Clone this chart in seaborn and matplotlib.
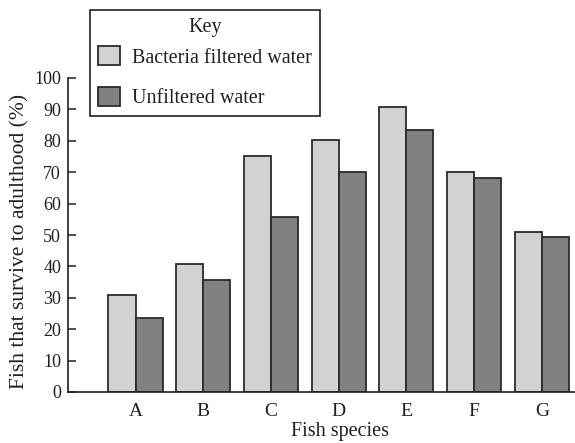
import matplotlib
matplotlib.use("Agg")
import matplotlib.pyplot as plt
import seaborn as sns
import pandas as pd

species = ["A", "B", "C", "D", "E", "F", "G"]
filtered = [31.0, 40.7, 75.2, 80.4, 90.8, 70.2, 51.1]
unfiltered = [23.7, 35.8, 55.8, 70.2, 83.4, 68.0, 49.5]
series_names = ["Bacteria filtered water", "Unfiltered water"]
colors = ["#d1d2d4", "#808183"]
yticks = list(range(0, 101, 10))

df = pd.DataFrame({
    "species": species * 2,
    "pct": filtered + unfiltered,
    "water": [series_names[0]] * len(species) + [series_names[1]] * len(species),
})

sns.set_theme(style="white")
plt.rcParams["font.family"] = ["Liberation Serif", "DejaVu Serif"]
plt.rcParams["text.color"] = "#231f20"

fig = plt.figure(figsize=(5.75, 4.43), dpi=100)
ax = fig.add_axes([68 / 575, 1 - 392 / 443, 507 / 575, 314 / 443])

sns.barplot(data=df, x="species", y="pct", hue="water", palette=colors,
            edgecolor="#2b2b2b", linewidth=1.3, ax=ax, saturation=1)

ax.set_ylim(0, 100)
ax.set_xlim(-0.997, 6.49)
ax.set_yticks(yticks)
ax.set_yticklabels([str(t) for t in yticks])
for s in ["top", "right"]:
    ax.spines[s].set_visible(False)
for s in ["left", "bottom"]:
    ax.spines[s].set_color("#231f20")
    ax.spines[s].set_linewidth(1.2)
ax.tick_params(axis="y", direction="in", length=6, width=1.1, color="#231f20",
               labelsize=13, pad=5, labelcolor="#231f20", left=True)
ax.tick_params(axis="x", length=0, labelsize=14, pad=8, labelcolor="#231f20")

ax.set_xlabel("Fish species", fontsize=14.5, color="#231f20")
ax.set_ylabel("Fish that survive to adulthood (%)", fontsize=15.5, color="#231f20")
ax.xaxis.set_label_coords(0.536, -0.096)
ax.yaxis.set_label_coords(-0.076, 0.478)

handles, labels = ax.get_legend_handles_labels()
ax.get_legend().remove()
fs = 14.5
leg = fig.legend(handles, labels, title="Key", loc="upper left",
                 bbox_to_anchor=(90 / 575, 1 - 10 / 443), borderaxespad=0,
                 frameon=True, fancybox=False, edgecolor="#231f20",
                 fontsize=fs, title_fontsize=fs, labelspacing=0.95,
                 handlelength=1.1, handleheight=1.1, handletextpad=0.6,
                 borderpad=0.4, framealpha=1)
leg.get_frame().set_linewidth(1.2)
try:
    leg._legend_box.sep = 0.45 * fs
except Exception:
    pass

fig.savefig("out.png", dpi=100)
